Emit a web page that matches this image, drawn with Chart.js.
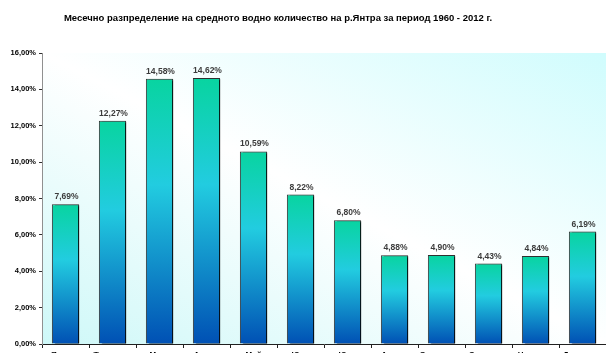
<!DOCTYPE html>
<html lang="bg">
<head>
<meta charset="UTF-8">
<title>Месечно разпределение</title>
<script src="https://cdn.jsdelivr.net/npm/chart.js"></script>
<style>
  html, body { margin: 0; padding: 0; background: #fff; overflow: hidden; }
  #wrap { position: relative; width: 606px; height: 366px; }
  #title {
    position: absolute; left: 0; top: 12px; width: 556px; text-align: center;
    font: bold 9.5px "Liberation Sans", Arial, sans-serif; color: #000;
  }
</style>
</head>
<body>
<div id="wrap">
  <div id="title">Месечно разпределение на средното водно количество на р.Янтра за период 1960 - 2012 г.</div>
  <canvas id="myChartCanvas" width="606" height="366"></canvas>
</div>

<script>
// месеци и дял от годишния отток (%)
const meseci = ['Януари', 'Февруари', 'Март', 'Април', 'Май', 'Юни',
                'Юли', 'Август', 'Септември', 'Октомври', 'Ноември', 'Декември'];
const dqlove = [7.69, 12.27, 14.58, 14.62, 10.59, 8.22, 6.80, 4.88, 4.90, 4.43, 4.84, 6.19];
const yMax = 16;
const yStep = 2;

function procent(v) {
    return v.toFixed(2).replace('.', ',') + '%';
}

// фон на графичната област - светъл циан в ъглите, бяла ивица по диагонала
const fonPlugin = {
    id: 'fon',
    beforeDraw(chart) {
        const a = chart.chartArea;
        const ctx = chart.ctx;
        const W = a.right - a.left, H = a.bottom - a.top;
        const cx = a.left + W / 2, cy = a.top + H / 2;
        const n = Math.sqrt(W * W + H * H);
        const k = W * H / (n * n);
        const g = ctx.createLinearGradient(cx - k * H, cy + k * W, cx + k * H, cy - k * W);
        g.addColorStop(0, '#cef8f8');
        g.addColorStop(0.5, '#ffffff');
        g.addColorStop(1, '#d0fcfd');
        ctx.save();
        ctx.fillStyle = g;
        ctx.fillRect(a.left, a.top, W, H);
        ctx.restore();
    }
};

// сянка на колоните и етикети над тях
const sqnkaPlugin = {
    id: 'sqnka',
    beforeDatasetsDraw(chart) {
        const ctx = chart.ctx;
        ctx.save();
        ctx.shadowColor = 'rgba(0,0,0,0.95)';
        ctx.shadowOffsetX = 3;
        ctx.shadowOffsetY = 1;
        ctx.shadowBlur = 1;
    },
    afterDatasetsDraw(chart) {
        chart.ctx.restore();
        const ctx = chart.ctx;
        const meta = chart.getDatasetMeta(0);
        ctx.save();
        ctx.fillStyle = '#3c3c3c';
        ctx.font = 'bold 8.5px "Liberation Sans", Arial, sans-serif';
        ctx.textAlign = 'center';
        ctx.textBaseline = 'bottom';
        meta.data.forEach(function (bar, i) {
            ctx.fillText(procent(dqlove[i]), bar.x + 1, bar.y - 3);
        });
        ctx.restore();
    }
};

function gradientKolona(context) {
    const chart = context.chart;
    if (!chart.chartArea) return '#20c8e0';
    const y = chart.scales.y;
    const top = y.getPixelForValue(context.raw);
    const base = y.getPixelForValue(0);
    const g = chart.ctx.createLinearGradient(0, top, 0, base);
    g.addColorStop(0, '#08d4a0');
    g.addColorStop(0.4, '#22cce0');
    g.addColorStop(1, '#0050b4');
    return g;
}

let dados = {
    labels: meseci,
    datasets: [{
        data: dqlove,
        backgroundColor: gradientKolona,
        borderColor: '#303030',
        borderWidth: 1,
        barPercentage: 0.58,
        categoryPercentage: 1.0
    }]
};

const config = {
    type: 'bar',
    data: dados,
    plugins: [fonPlugin, sqnkaPlugin],
    options: {
        responsive: false,
        animation: false,
        layout: { padding: { top: 53, right: 0, left: 0, bottom: 0 } },
        plugins: {
            legend: { display: false },
            title: { display: false },
            tooltip: { enabled: false }
        },
        scales: {
            x: {
                offset: true,
                grid: { display: true, drawOnChartArea: false, tickLength: 4, color: '#202020' },
                border: { color: '#202020', width: 1 },
                ticks: {
                    color: '#000',
                    padding: 2,
                    maxRotation: 0,
                    autoSkip: false,
                    font: { family: '"Liberation Sans", Arial, sans-serif', size: 8, weight: 'bold' }
                },
                afterFit(scale) { scale.height = 22; }
            },
            y: {
                min: 0,
                max: yMax,
                ticks: {
                    stepSize: yStep,
                    color: '#000',
                    padding: 3,
                    font: { family: '"Liberation Sans", Arial, sans-serif', size: 7.5, weight: 'bold' },
                    callback: function (v) { return procent(v); }
                },
                grid: { display: true, drawOnChartArea: false, tickLength: 3, color: '#303030' },
                border: { color: '#909090', width: 1 },
                afterFit(scale) { scale.width = 42; }
            }
        }
    }
};

let myChart = new Chart(document.getElementById('myChartCanvas'), config);
</script>
</body>
</html>
